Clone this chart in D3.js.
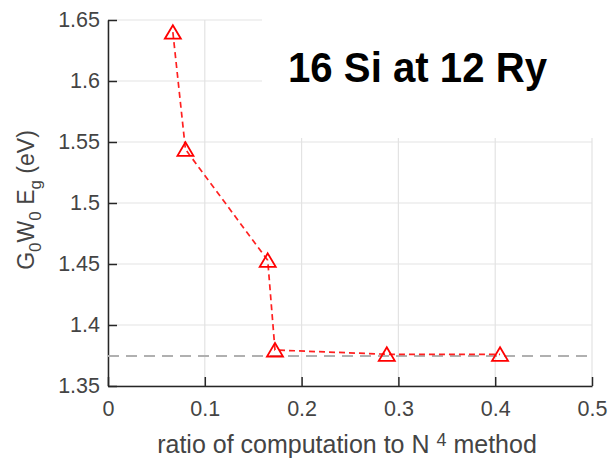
<!DOCTYPE html>
<html>
<head>
<meta charset="utf-8">
<script src="https://cdn.jsdelivr.net/npm/d3@7"></script>
<style>
  body { margin: 0; background: #fff; }
  svg text { font-family: "Liberation Sans", Arial, sans-serif; }
</style>
</head>
<body>
<div id="chart"></div>
<script>
// data
const ratio = [0.067, 0.080, 0.165, 0.1725, 0.288, 0.405];
const gap = [1.640, 1.544, 1.453, 1.3795, 1.376, 1.376];
const converged = 1.3745;
const xTicks = [0, 0.1, 0.2, 0.3, 0.4, 0.5];
const yTicks = [1.35, 1.4, 1.45, 1.5, 1.55, 1.6, 1.65];

const width = 609, height = 458;
const margin = {top: 20, left: 108, right: 17, bottom: 72};

const svg = d3.select("#chart")
    .append("svg")
    .attr("width", width)
    .attr("height", height);

const xScale = d3.scaleLinear()
    .domain([0, 0.5])
    .range([margin.left, width - margin.right]);

const yScale = d3.scaleLinear()
    .domain([1.35, 1.65])
    .range([height - margin.bottom, margin.top]);

const fmt = d => String(+d.toFixed(2));
const axisColor = "#262626";
const textColor = "#444";

/*
GRID
*/
svg.append("g").selectAll("line")
    .data(yTicks)
    .enter()
    .append("line")
    .attr("x1", xScale(0)).attr("x2", xScale(0.5))
    .attr("y1", d => yScale(d)).attr("y2", d => yScale(d))
    .attr("stroke", "#e3e3e3").attr("stroke-width", 1.2);

svg.append("g").selectAll("line")
    .data(xTicks)
    .enter()
    .append("line")
    .attr("x1", d => xScale(d)).attr("x2", d => xScale(d))
    .attr("y1", yScale(1.65)).attr("y2", yScale(1.35))
    .attr("stroke", "#e3e3e3").attr("stroke-width", 1.2);

// white box behind the annotation
svg.append("rect")
    .attr("x", 262).attr("y", 0)
    .attr("width", width - 262).attr("height", 138)
    .attr("fill", "#fff");

/*
AXES
*/
const xAxis = svg.append("g")
    .attr("transform", `translate(0, ${yScale(1.35)})`)
    .call(d3.axisBottom(xScale).tickValues(xTicks).tickFormat(fmt)
        .tickSizeInner(-9).tickSizeOuter(0).tickPadding(15));

const yAxis = svg.append("g")
    .attr("transform", `translate(${xScale(0)}, 0)`)
    .call(d3.axisLeft(yScale).tickValues(yTicks).tickFormat(fmt)
        .tickSizeInner(-9).tickSizeOuter(0).tickPadding(8));

[xAxis, yAxis].forEach(function(a){
    a.select(".domain").attr("stroke", axisColor).attr("stroke-width", 1.5);
    a.selectAll(".tick line").attr("stroke", axisColor).attr("stroke-width", 1.5);
    a.selectAll("text")
        .attr("fill", textColor)
        .style("font-size", "21.5px")
        .style("font-family", "'Liberation Sans', Arial, sans-serif");
});

/*
REFERENCE LINE + DATA
*/
svg.append("line")
    .attr("x1", xScale(0)).attr("x2", xScale(0.5))
    .attr("y1", yScale(converged)).attr("y2", yScale(converged))
    .attr("stroke", "#b0b0b0")
    .attr("stroke-width", 2)
    .attr("stroke-dasharray", "11,7");

const pts = ratio.map((r, i) => ({x: r, y: gap[i]}));

svg.append("path")
    .datum(pts)
    .attr("fill", "none")
    .attr("stroke", "#ff2020")
    .attr("stroke-width", 1.7)
    .attr("stroke-dasharray", "6,4")
    .attr("d", d3.line().x(d => xScale(d.x)).y(d => yScale(d.y)));

svg.selectAll(".marker")
    .data(pts)
    .enter()
    .append("path")
    .attr("class", "marker")
    .attr("transform", d => `translate(${xScale(d.x)}, ${yScale(d.y)})`)
    .attr("d", "M0,-7L8,6.5L-8,6.5Z")
    .attr("fill", "none")
    .attr("stroke", "#ff0000")
    .attr("stroke-width", 1.8);

/*
LABELS
*/
const xLabel = svg.append("text")
    .attr("x", 347)
    .attr("y", 453)
    .attr("text-anchor", "middle")
    .attr("fill", textColor)
    .style("font-size", "25px");
xLabel.append("tspan").text("ratio of computation to N ");
xLabel.append("tspan").attr("dy", -7).style("font-size", "18px").text("4");
xLabel.append("tspan").attr("dy", 7).text(" method");

const yLabel = svg.append("text")
    .attr("transform", "translate(34, 200) rotate(-90)")
    .attr("text-anchor", "middle")
    .attr("fill", textColor)
    .style("font-size", "23px");
yLabel.append("tspan").text("G");
yLabel.append("tspan").attr("dy", 7).style("font-size", "17px").text("0");
yLabel.append("tspan").attr("dy", -7).text("W");
yLabel.append("tspan").attr("dy", 7).style("font-size", "17px").text("0");
yLabel.append("tspan").attr("dy", -7).text(" E");
yLabel.append("tspan").attr("dy", 7).style("font-size", "17px").text("g");
yLabel.append("tspan").attr("dy", -7).text(" (eV)");

svg.append("text")
    .attr("x", 288)
    .attr("y", 82)
    .attr("fill", "#000")
    .style("font-size", "42px")
    .style("font-weight", "bold")
    .attr("textLength", 259)
    .attr("lengthAdjust", "spacingAndGlyphs")
    .text("16 Si at 12 Ry");
</script>
</body>
</html>
